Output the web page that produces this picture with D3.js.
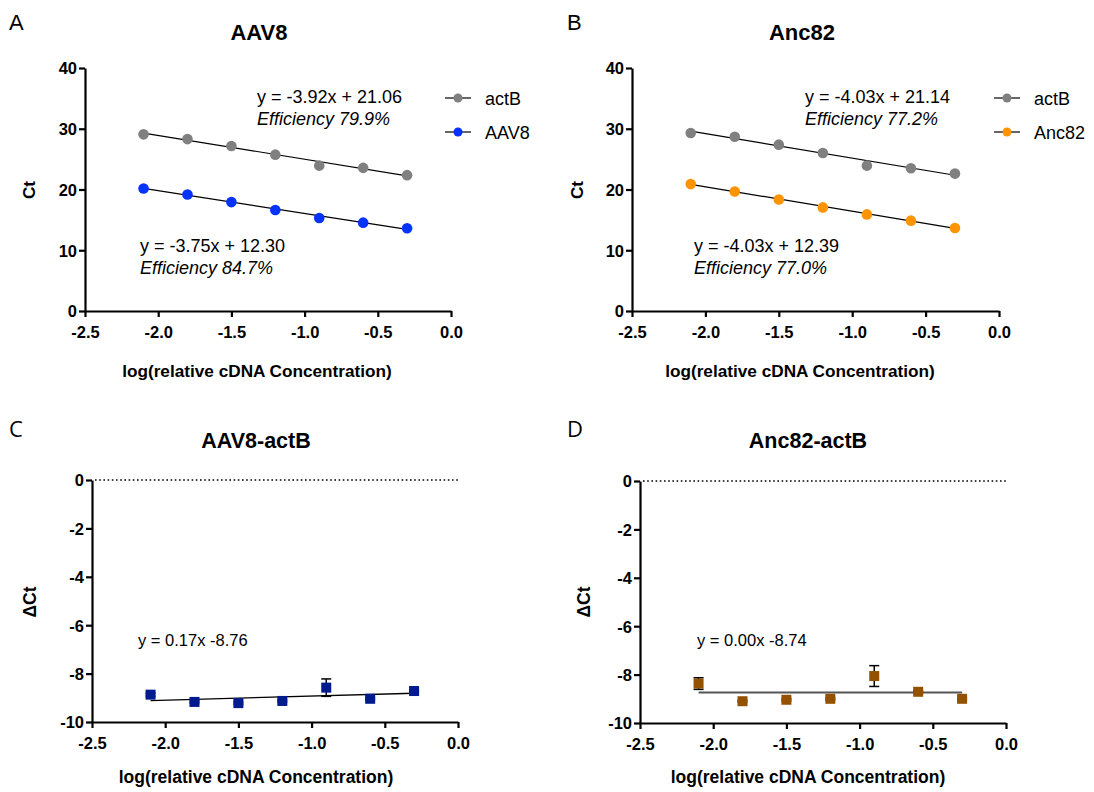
<!DOCTYPE html>
<html>
<head>
<meta charset="utf-8">
<script src="https://cdn.jsdelivr.net/npm/d3@7"></script>
<style>
  html, body { margin: 0; padding: 0; background: #fff; }
  svg { display: block; }
  .tick text { font-family: "Liberation Sans", Arial, sans-serif; font-weight: bold; font-size: 16.5px; fill: #000; }
</style>
</head>
<body>
<svg id="fig" width="1094" height="792"></svg>
<script>
// Dilution series: log of relative cDNA concentration
const logConc = [-2.1, -1.8, -1.5, -1.2, -0.9, -0.6, -0.3];

// Ct values, panel A (AAV8 vs actB)
const ctActB_A = [29.08, 28.30, 27.16, 25.74, 23.93, 23.56, 22.36];
const ctAAV8   = [20.16, 19.18, 17.93, 16.62, 15.31, 14.54, 13.61];

// Ct values, panel B (Anc82 vs actB)
const ctActB_B = [29.30, 28.69, 27.38, 26.00, 23.93, 23.50, 22.62];
const ctAnc82  = [20.89, 19.67, 18.36, 17.05, 15.90, 14.87, 13.67];

// Delta Ct (target - actB) with SD
const dCtAAV8    = [-8.87, -9.17, -9.22, -9.13, -8.58, -9.04, -8.72];
const dCtAAV8Sd  = [0.06, 0.04, 0.04, 0.04, 0.36, 0.04, 0.04];
const dCtAnc82   = [-8.37, -9.10, -9.04, -9.00, -8.06, -8.71, -9.00];
const dCtAnc82Sd = [0.24, 0.04, 0.04, 0.04, 0.43, 0.04, 0.04];

// Linear fits [slope, intercept] as reported
const fitActB_A = [-3.92, 21.06];
const fitAAV8   = [-3.75, 12.30];
const fitActB_B = [-4.03, 21.14];
const fitAnc82  = [-4.03, 12.39];
const fitDAAV8  = [0.17, -8.76];
const fitDAnc82 = [0.00, -8.74];

// Axis ticks
const xTicks = [-2.5, -2.0, -1.5, -1.0, -0.5, 0.0];
const ctTicks = [0, 10, 20, 30, 40];
const dCtTicks = [0, -2, -4, -6, -8, -10];

// Colours
const cGray = "#808080", cBlue = "#0433FF", cOrange = "#FF9300";
const cNavy = "#001A8F", cBrown = "#945200";

const svg = d3.select("#fig");
const sans = '"Liberation Sans", Arial, sans-serif';

function makeAxes(g, x, y, yTicks) {
  const xa = g.append("g").attr("transform", `translate(0,${y.range()[0]})`)
    .call(d3.axisBottom(x).tickValues(xTicks).tickSize(6).tickSizeOuter(0).tickPadding(4));
  const ya = g.append("g").attr("transform", `translate(${x.range()[0]},0)`)
    .call(d3.axisLeft(y).tickValues(yTicks).tickSize(6).tickSizeOuter(0).tickPadding(2));
  [xa, ya].forEach(a => {
    a.selectAll("path.domain").attr("stroke", "#000").attr("stroke-width", 2.2);
    a.selectAll(".tick line").attr("stroke", "#000").attr("stroke-width", 2.2);
  });
  // plain hyphen-minus labels
  xa.selectAll(".tick text").attr("dy", "1.0em").text(d => d.toFixed(1));
  ya.selectAll(".tick text").attr("dy", "0.36em").text(d => String(d));
}

function label(txt, x, y, opts = {}) {
  return svg.append("text").attr("x", x).attr("y", y)
    .attr("font-family", opts.family || sans)
    .attr("font-size", opts.size || 16)
    .attr("font-weight", opts.weight || "normal")
    .attr("font-style", opts.style || "normal")
    .attr("text-anchor", opts.anchor || "start")
    .attr("transform", opts.rotate ? `rotate(-90,${x},${y})` : null)
    .attr("fill", "#000")
    .text(txt);
}

function fitLine(g, x, y, fit, color, width) {
  const ends = [logConc[0], logConc[logConc.length - 1]];
  g.append("line")
    .attr("x1", x(ends[0])).attr("y1", y(fit[0] * ends[0] + fit[1]))
    .attr("x2", x(ends[1])).attr("y2", y(fit[0] * ends[1] + fit[1]))
    .attr("stroke", color).attr("stroke-width", width);
}

// ---------- Standard-curve panels (A, B) ----------
function curvePanel(cfg) {
  const x = d3.scaleLinear().domain([-2.5, 0]).range(cfg.xr);
  const y = d3.scaleLinear().domain([0, 40]).range(cfg.yr);
  const g = svg.append("g");
  makeAxes(g, x, y, ctTicks);
  cfg.series.forEach(s => {
    fitLine(g, x, y, s.fit, "#000", 1.2);
    g.selectAll(null).data(s.values).join("circle")
      .attr("cx", (d, i) => x(logConc[i])).attr("cy", d => y(d))
      .attr("r", 5.3).attr("fill", s.color);
  });
  // legend
  cfg.series.forEach((s, i) => {
    const ly = cfg.legend[1] + i * 34;
    const lx = cfg.legend[0];
    svg.append("line").attr("x1", lx).attr("x2", lx + 26).attr("y1", ly).attr("y2", ly)
      .attr("stroke", "#000").attr("stroke-width", 1.2);
    svg.append("circle").attr("cx", lx + 13).attr("cy", ly).attr("r", 4.5).attr("fill", s.color);
    label(s.name, lx + 40, ly + 6.5, { size: 18 });
  });
  // fit equations
  cfg.series.forEach(s => {
    label(s.eq, s.eqPos[0], s.eqPos[1], { size: 18 });
    label(s.eff, s.eqPos[0], s.eqPos[1] + 22, { size: 18, style: "italic" });
  });
  label(cfg.title, cfg.cx, 40, { size: 22, weight: "bold", anchor: "middle" });
  label("log(relative cDNA Concentration)", cfg.cx - 2, 377, { size: 17.2, weight: "bold", anchor: "middle" });
  label("Ct", cfg.ylabX, 190, { size: 17.2, weight: "bold", anchor: "middle", rotate: true });
  label(cfg.letter, cfg.letterX, 30, { size: 22 });
}

curvePanel({
  letter: "A", letterX: 9, title: "AAV8", cx: 259, ylabX: 35,
  xr: [85, 451], yr: [311, 68], legend: [445, 98],
  series: [
    { name: "actB", color: cGray, values: ctActB_A, fit: fitActB_A,
      eq: "y = -3.92x + 21.06", eff: "Efficiency 79.9%", eqPos: [257, 103] },
    { name: "AAV8", color: cBlue, values: ctAAV8, fit: fitAAV8,
      eq: "y = -3.75x + 12.30", eff: "Efficiency 84.7%", eqPos: [140, 252] }
  ]
});

curvePanel({
  letter: "B", letterX: 567, title: "Anc82", cx: 802, ylabX: 583,
  xr: [632, 999], yr: [311, 68], legend: [994, 98],
  series: [
    { name: "actB", color: cGray, values: ctActB_B, fit: fitActB_B,
      eq: "y = -4.03x + 21.14", eff: "Efficiency 77.2%", eqPos: [805, 103] },
    { name: "Anc82", color: cOrange, values: ctAnc82, fit: fitAnc82,
      eq: "y = -4.03x + 12.39", eff: "Efficiency 77.0%", eqPos: [694, 252] }
  ]
});

// ---------- Delta Ct panels (C, D) ----------
function deltaPanel(cfg) {
  const x = d3.scaleLinear().domain([-2.5, 0]).range(cfg.xr);
  const y = d3.scaleLinear().domain([-10, 0]).range(cfg.yr);
  const g = svg.append("g");
  // reference line at zero
  g.append("line").attr("x1", x(-2.5) + 3).attr("x2", x(0)).attr("y1", y(0)).attr("y2", y(0))
    .attr("stroke", "#000").attr("stroke-width", 1.6).attr("stroke-dasharray", "1.6 2.6");
  makeAxes(g, x, y, dCtTicks);
  fitLine(g, x, y, cfg.fit, cfg.fitColor, cfg.fitWidth);
  const pts = cfg.values.map((v, i) => ({ x: logConc[i], v, sd: cfg.sd[i] }));
  const eb = g.selectAll(null).data(pts).join("g");
  eb.append("line").attr("x1", d => x(d.x)).attr("x2", d => x(d.x))
    .attr("y1", d => y(d.v + d.sd)).attr("y2", d => y(d.v - d.sd))
    .attr("stroke", "#000").attr("stroke-width", 1.5);
  [1, -1].forEach(s => {
    eb.append("line").attr("x1", d => x(d.x) - 5).attr("x2", d => x(d.x) + 5)
      .attr("y1", d => y(d.v + s * d.sd)).attr("y2", d => y(d.v + s * d.sd))
      .attr("stroke", "#000").attr("stroke-width", 1.5);
  });
  const sz = 10;
  g.selectAll(null).data(pts).join("rect")
    .attr("x", d => x(d.x) - sz / 2).attr("y", d => y(d.v) - sz / 2)
    .attr("width", sz).attr("height", sz).attr("fill", cfg.color);
  label(cfg.eq, cfg.eqPos[0], cfg.eqPos[1], { size: 16.5 });
  label(cfg.title, cfg.cx, 448, { size: 21.5, weight: "bold", anchor: "middle" });
  label("log(relative cDNA Concentration)", cfg.cx, 783, { size: 17.5, weight: "bold", anchor: "middle" });
  label("\u0394Ct", cfg.ylabX, 602, { size: 17.5, weight: "bold", anchor: "middle", rotate: true });
  label(cfg.letter, cfg.letterX, 437, { size: 22, family: '"Open Sans", sans-serif' });
}

deltaPanel({
  letter: "C", letterX: 9, title: "AAV8-actB", cx: 256, ylabX: 36,
  xr: [92, 458], yr: [722, 480], color: cNavy, values: dCtAAV8, sd: dCtAAV8Sd,
  fit: fitDAAV8, fitColor: "#000", fitWidth: 1.3,
  eq: "y = 0.17x -8.76", eqPos: [138, 646]
});

deltaPanel({
  letter: "D", letterX: 567, title: "Anc82-actB", cx: 808, ylabX: 590,
  xr: [640, 1006], yr: [723, 481], color: cBrown, values: dCtAnc82, sd: dCtAnc82Sd,
  fit: fitDAnc82, fitColor: "#555", fitWidth: 1.8,
  eq: "y = 0.00x -8.74", eqPos: [697, 646]
});
</script>
</body>
</html>
